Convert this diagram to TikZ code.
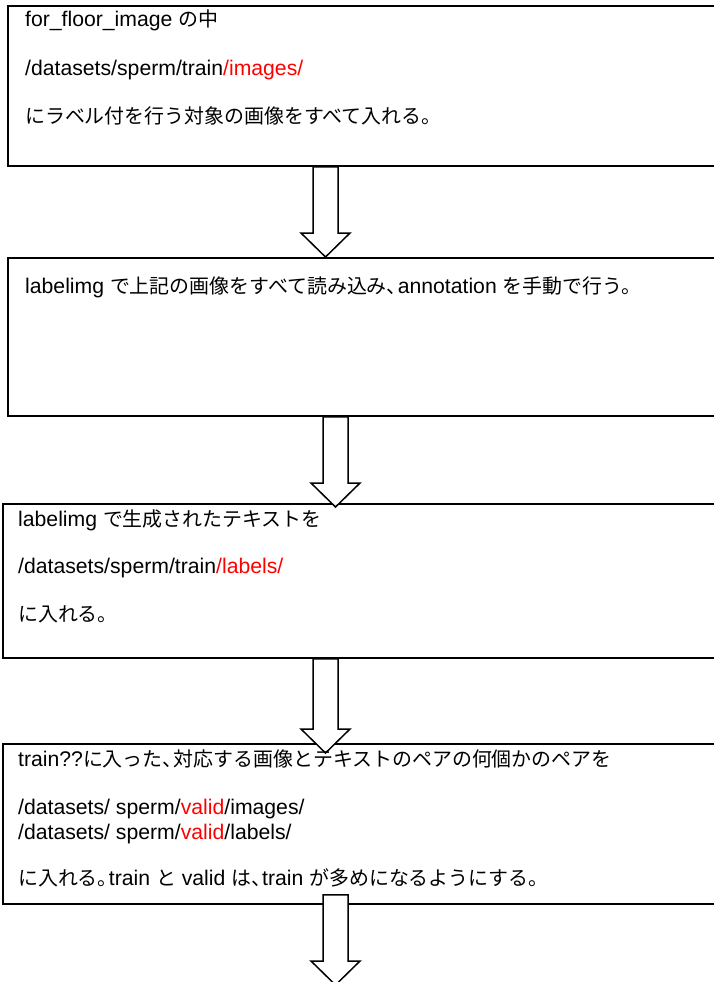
\documentclass[tikz,border=0pt]{standalone}
\usepackage{fontspec}
\setmainfont{Liberation Sans}
\newfontfamily\jpfont{Noto Sans CJK JP}[Scale=0.94]
\usetikzlibrary{calc}
\newcommand\J[1]{{\jpfont #1}}
\newcommand\HW[1]{\makebox[0.55em][l]{#1}}
\tikzset{
  box/.style={draw=black, line width=1.8pt, rectangle, anchor=north west, inner sep=0pt},
  arr/.style={draw=black, line width=1.5pt, fill=white, line join=miter},
  txt/.style={anchor=base west, inner sep=0pt, font=\fontsize{21.2}{24}\selectfont},
}
\newcommand\blockarr[2]{%
  \draw[arr] let \p1=(#1), \p2=(#2) in
    (\x1-12.5pt,\y1) -- (\x1-12.5pt,\y2+24pt) -- (\x1-24.5pt,\y2+24pt) -- (\x1,\y2)
    -- (\x1+24.5pt,\y2+24pt) -- (\x1+12.5pt,\y2+24pt) -- (\x1+12.5pt,\y1) -- cycle;}
\begin{document}
\begin{tikzpicture}[x=1pt,y=-1pt]
\useasboundingbox (0,0) rectangle (714,982);
\fill[white] (0,0) rectangle (714,982);
% boxes
\node[box, minimum width=720pt, minimum height=160pt] (b1) at (7,5) {};
\node[box, minimum width=720pt, minimum height=158pt] (b2) at (7,257) {};
\node[box, minimum width=725pt, minimum height=154pt] (b3) at (2,503) {};
\node[box, minimum width=725pt, minimum height=160pt] (b4) at (2,743) {};
% arrow columns
\coordinate (c1) at (325.5,0);
\coordinate (c2) at (335.5,0);
\coordinate (a1s) at (b1.south -| c1);
\coordinate (a1e) at (b2.north -| c1);
\coordinate (a2s) at (b2.south -| c2);
\coordinate (a2e) at ($(b3.north -| c2)+(0,4)$);
\coordinate (a3s) at (b3.south -| c1);
\coordinate (a3e) at ($(b4.north -| c1)+(0,10)$);
\coordinate (a4s) at ($(b4.south -| c2)+(0,-10)$);
\coordinate (a4e) at (335.5,985);
\blockarr{a1s}{a1e}
\blockarr{a2s}{a2e}
\blockarr{a3s}{a3e}
\blockarr{a4s}{a4e}
% texts
\node[txt] (t11) at (25,27) {for\_floor\_image \J{の中}};
\node[txt] (t12) at (25,75.5) {/datasets/sperm/train{\color{red}/images/}};
\node[txt] (t13) at (25,123) {\J{にラベル付を行う対象の画像をすべて入れる。}};
\node[txt] (t21) at (25,293) {labelimg \J{で上記の画像をすべて読み込み\HW{、}}annotation \J{を手動で行う。}};
\node[txt] (t31) at (18,526) {labelimg \J{で生成されたテキストを}};
\node[txt] (t32) at (18,573) {/datasets/sperm/train{\color{red}/labels/}};
\node[txt] (t33) at (18,621) {\J{に入れる。}};
\node[txt] (t41) at (18,766) {train??\J{に入った\HW{、}対応する画像とテキストのペアの何個かのペアを}};
\node[txt] (t42) at (18,814) {/datasets/ sperm/{\color{red}valid}/images/};
\node[txt] (t43) at (18,839) {/datasets/ sperm/{\color{red}valid}/labels/};
\node[txt] (t44) at (18,885) {\J{に入れる\HW{。}}train \J{と} valid \J{は\HW{、}}train \J{が多めになるようにする。}};
\end{tikzpicture}
\end{document}
